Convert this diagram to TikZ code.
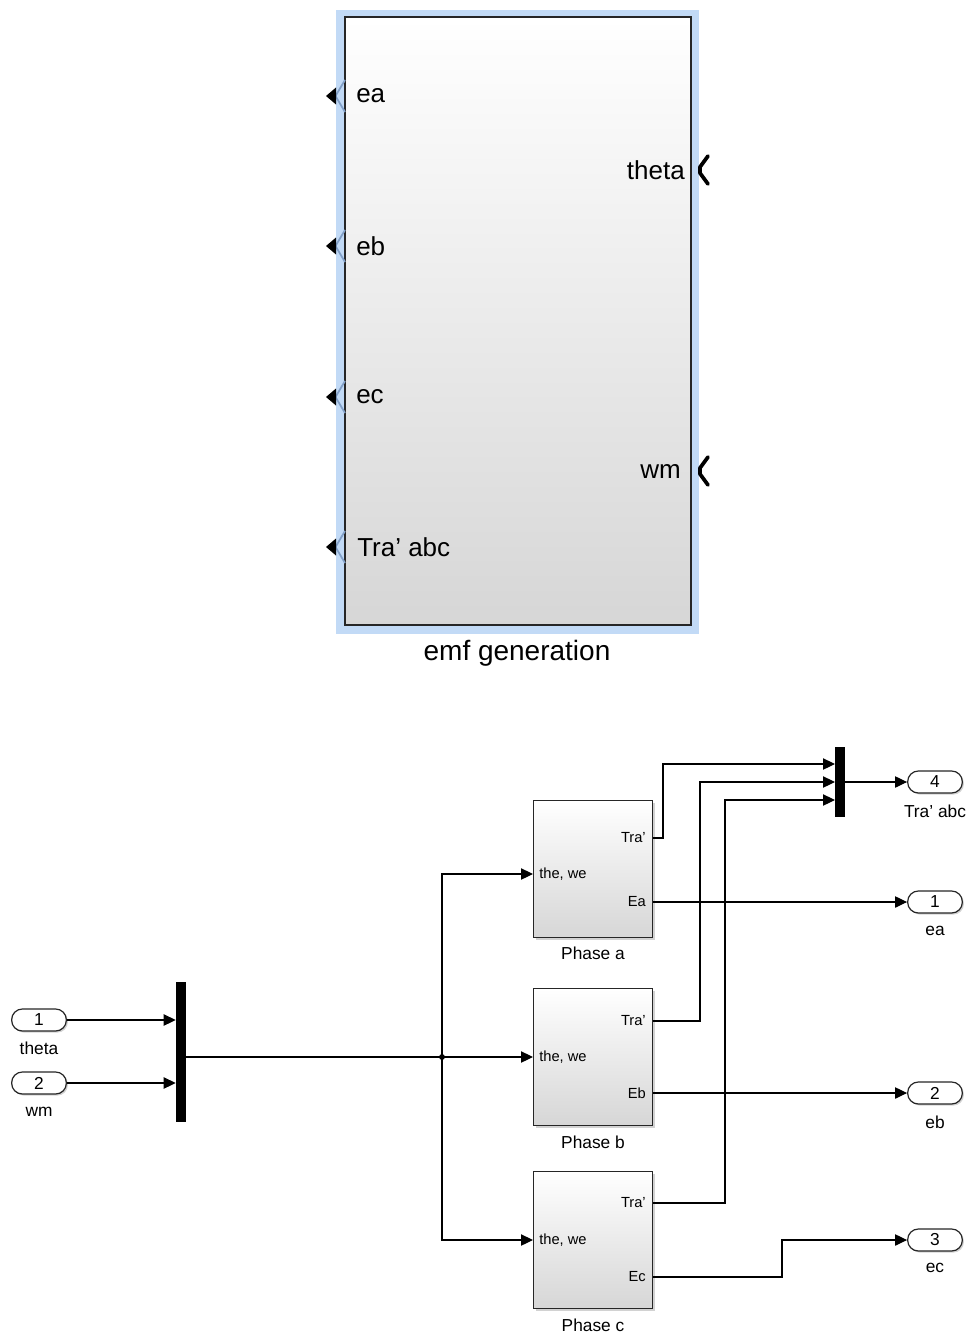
\documentclass[tikz,border=0pt]{standalone}
\usepackage{fontspec}
\setmainfont{Liberation Sans}
\usetikzlibrary{arrows.meta,calc,shadows}
\definecolor{hl}{RGB}{194,218,246}
\definecolor{hlport}{RGB}{130,160,200}
\begin{document}
\begin{tikzpicture}[x=0.75pt,y=-0.75pt,
  wire/.style={line width=0.8pt},
  arr/.style={wire,-{Triangle[length=9pt,width=8.5pt]}},
  biglbl/.style={font=\fontsize{19.5}{20}\selectfont, inner sep=0pt},
  lbl/.style={font=\fontsize{13}{14}\selectfont, inner sep=0pt},
  smalllbl/.style={font=\fontsize{11}{12}\selectfont, inner sep=0pt},
  blk/.style={draw=black!85, line width=1pt, top color=white, bottom color=black!16,
    minimum width=89.25pt, minimum height=102.75pt, inner sep=0pt,
    drop shadow={shadow xshift=1.5pt, shadow yshift=-1.5pt, fill=black!35}},
  pill/.style={draw=black!85, line width=0.9pt, rounded corners=8pt, fill=white,
    minimum width=41pt, minimum height=16.5pt, inner sep=0pt,
    font=\fontsize{13}{13}\selectfont,
    drop shadow={shadow xshift=1.2pt, shadow yshift=-1.2pt, fill=black!35}},
  muxbar/.style={fill=black, draw=none, minimum width=7.5pt, inner sep=0pt},
  lport/.style={fill=black},
  rport/.style={line width=2.8pt, line cap=round, line join=round}
]
\useasboundingbox (0,0) rectangle (973,1338);

% ---------------- top: emf generation subsystem ----------------
\node[fill=hl, minimum width=272.25pt, minimum height=468pt, inner sep=0pt] (hlframe) at (517.5,322) {};
\node[draw=black!85, line width=1.2pt, top color=white, bottom color=black!16,
  minimum width=259.5pt, minimum height=456pt, inner sep=0pt] (emf) at (518,321) {};

\foreach \yy in {96,246,397,547}{
  \draw[hlport, line width=1.3pt] (345,\yy-16) -- (335.5,\yy) -- (345,\yy+16);
  \fill[lport] (336,\yy-8.5) -- (326,\yy) -- (336,\yy+8.5) -- cycle;
}
\foreach \yy in {170,471}{
  \draw[rport] (708,\yy-14) -- (700,\yy-3) -- (700,\yy+3) -- (708,\yy+14);
}

\node[biglbl, anchor=west] (tea) at (356,96) {ea};
\node[biglbl, anchor=west] (teb) at (356,246) {eb};
\node[biglbl, anchor=west] (tec) at (356,397) {ec};
\node[biglbl, anchor=west] (ttra) at (357,547) {Tra’ abc};
\node[biglbl, anchor=east] (ttheta) at (685,170) {theta};
\node[biglbl, anchor=east] (twm) at (681,471) {wm};
\node[font=\fontsize{21}{22}\selectfont, inner sep=0pt] (emfname) at (517,653) {emf generation};

% ---------------- bottom: contents ----------------
% inports
\node[pill] (in1) at (39,1020) {1};
\node[lbl] (in1l) at (39,1048) {theta};
\node[pill] (in2) at (39,1083) {2};
\node[lbl] (in2l) at (39,1112) {wm};

% mux 1
\node[muxbar, minimum height=105pt] (mux1) at (181,1052) {};
\draw[arr] (in1.east) -- (in1.east -| mux1.west);
\draw[arr] (in2.east) -- (in2.east -| mux1.west);

% phase blocks
\node[blk] (pa) at (593,869) {};
\node[blk] (pb) at (593,1057) {};
\node[blk] (pc) at (593,1240) {};
\node[lbl] (pan) at (593,953) {Phase a};
\node[lbl] (pbn) at (593,1142) {Phase b};
\node[lbl] (pcn) at (593,1325) {Phase c};

\coordinate (pa-in) at (533,874);
\coordinate (pa-tra) at (653,838);
\coordinate (pa-e) at (653,902);
\coordinate (pb-in) at (533,1057);
\coordinate (pb-tra) at (653,1021);
\coordinate (pb-e) at (653,1093);
\coordinate (pc-in) at (533,1240);
\coordinate (pc-tra) at (653,1203);
\coordinate (pc-e) at (653,1277);

\node[smalllbl, anchor=west] at (539,874) {the, we};
\node[smalllbl, anchor=east] at (646,838) {Tra’};
\node[smalllbl, anchor=east] at (646,902) {Ea};
\node[smalllbl, anchor=west] at (539,1057) {the, we};
\node[smalllbl, anchor=east] at (646,1021) {Tra’};
\node[smalllbl, anchor=east] at (646,1093) {Eb};
\node[smalllbl, anchor=west] at (539,1240) {the, we};
\node[smalllbl, anchor=east] at (646,1203) {Tra’};
\node[smalllbl, anchor=east] at (646,1277) {Ec};

% branch
\coordinate (br) at (442,1057);
\draw[wire] (mux1.east |- br) -- (br);
\draw[arr] (br) |- (pa-in);
\draw[arr] (br) -- (pb-in);
\draw[arr] (br) |- (pc-in);
\fill (br) circle (2.2pt);

% mux 2
\node[muxbar, minimum height=52.5pt] (mux2) at (840,782) {};
\coordinate (m2a) at (835,764);
\coordinate (m2b) at (835,782);
\coordinate (m2c) at (835,800);

% outports
\node[pill] (o4) at (935,782) {4};
\node[lbl] (o4l) at (935,811) {Tra’ abc};
\node[pill] (o1) at (935,902) {1};
\node[lbl] (o1l) at (935,931) {ea};
\node[pill] (o2) at (935,1093) {2};
\node[lbl] (o2l) at (935,1122) {eb};
\node[pill] (o3) at (935,1240) {3};
\node[lbl] (o3l) at (935,1268) {ec};

% Tra' wires into mux 2
\draw[arr] (pa-tra) -- (663,838) |- (m2a);
\draw[arr] (pb-tra) -- (700,1021) |- (m2b);
\draw[arr] (pc-tra) -- (725,1203) |- (m2c);
\draw[arr] (mux2.east) -- (o4.west);

% emf outputs
\draw[arr] (pa-e) -- (pa-e -| o1.west);
\draw[arr] (pb-e) -- (pb-e -| o2.west);
\draw[arr] (pc-e) -- (782,1277) |- (o3.west);
\end{tikzpicture}
\end{document}
